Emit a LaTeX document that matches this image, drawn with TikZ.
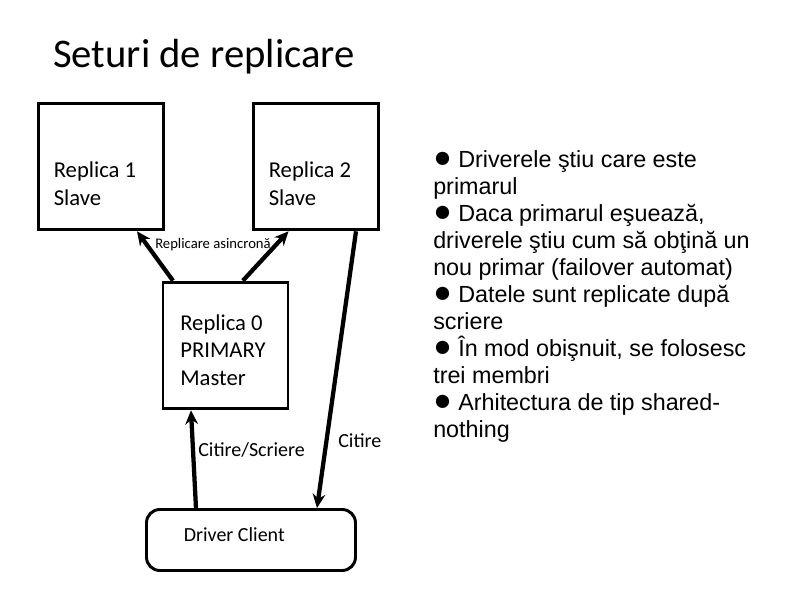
\documentclass[tikz,border=0pt]{standalone}
\usepackage{fontspec}
\setmainfont{Carlito}
\newfontfamily\bulletfont{Liberation Sans}
\newcommand\dotmark{{\fontsize{23}{20}\selectfont●}}
\usetikzlibrary{arrows.meta}

\begin{document}
\begin{tikzpicture}[x=0.75pt,y=-0.75pt,
	replica/.style={draw,line width=2.2pt,minimum width=93.75pt,minimum height=95pt,inner sep=0pt},
	boxtext/.style={anchor=west,align=left,inner sep=0pt,font=\fontsize{17}{20.7}\selectfont},
	flow/.style={line width=3.2pt,-{Stealth[length=10.5pt,width=9.5pt]}},
	tag/.style={anchor=west,inner sep=0pt,font=\fontsize{15}{18}\selectfont}]
\useasboundingbox (0,0) rectangle (794,595);

\node[anchor=base west,inner sep=0pt,font=\fontsize{30.5}{36}\selectfont] (title) at (53,68) {Seturi de replicare};

\node[replica] (rep1) at (101,166.5) {};
\node[replica] (rep2) at (316,166.5) {};
\node[replica] (rep0) at (225.5,345.5) {};
\node[draw,line width=2.2pt,rounded corners=10pt,minimum width=156.75pt,minimum height=45.75pt,inner sep=0pt] (client) at (251,540) {};

\node[boxtext] (rep1txt) at ([shift={(16.5,17)}]rep1.west) {Replica 1\\Slave};
\node[boxtext] (rep2txt) at ([shift={(16.5,17)}]rep2.west) {Replica 2\\Slave};
\node[boxtext] (rep0txt) at ([shift={(18.5,4.5)}]rep0.west) {Replica 0\\PRIMARY\\Master};
\node[tag] (clienttxt) at ([shift={(38.5,-5)}]client.west) {Driver Client};

\draw[flow] ([xshift=-39.4pt]rep0.north) -- ([xshift=27pt]rep1.south);
\draw[flow] ([xshift=13pt]rep0.north) -- ([xshift=-20.6pt]rep2.south);
\draw[flow] ([xshift=30pt]rep2.south) -- ([xshift=49.5pt]client.north);
\draw[flow] ([xshift=-41.25pt]client.north) -- ([xshift=-25.9pt]rep0.south);

\node[tag,font=\fontsize{11}{13}\selectfont] (async) at (155,245) {Replicare asincronă};
\node[tag] (rw) at (198,450) {Citire/Scriere};
\node[tag] (rd) at (338,441) {Citire};

\node[anchor=north west,align=left,inner sep=0pt,font=\bulletfont\fontsize{17.5}{20.25}\selectfont] (notes) at (433,150) {\dotmark{} Driverele ştiu care este\\primarul\\\dotmark{} Daca primarul eşuează,\\driverele ştiu cum să obţină un\\nou primar (failover automat)\\\dotmark{} Datele sunt replicate după\\scriere\\\dotmark{} În mod obişnuit, se folosesc\\trei membri\\\dotmark{} Arhitectura de tip shared-\\nothing};
\end{tikzpicture}
\end{document}
